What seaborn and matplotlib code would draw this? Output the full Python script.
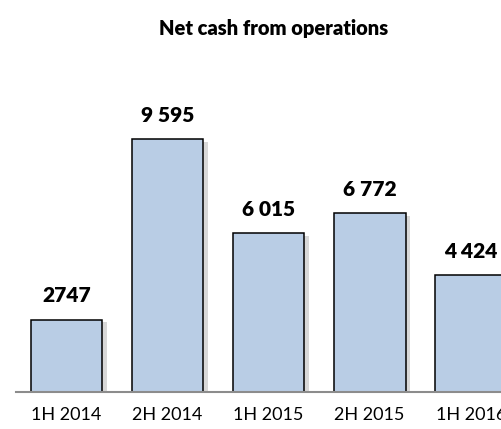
import matplotlib
matplotlib.use("Agg")
import matplotlib.pyplot as plt
import matplotlib.patheffects as pe
import seaborn as sns
import pandas as pd

categories = ["1H 2014", "2H 2014", "1H 2015", "2H 2015", "1H 2016"]
values = [2747, 9595, 6015, 6772, 4424]
value_labels = ["2747", "9 595", "6 015", "6 772", "4 424"]

sns.set_theme(style="white")
plt.rcParams['font.family'] = ['Lato', 'DejaVu Sans']

df = pd.DataFrame({"period": categories, "cash": values})

fig = plt.figure(figsize=(5.01, 4.29), dpi=100)
ax = fig.add_axes([16/501, 37/429, 1 - 16/501, 332/429])

sns.barplot(data=df, x="period", y="cash", color="#B9CDE5", saturation=1,
            width=0.71, edgecolor="black", linewidth=1.1, ax=ax)

for p in ax.patches:
    p.set_path_effects([pe.SimplePatchShadow(offset=(3, -2), shadow_rgbFace="#909090", alpha=0.35), pe.Normal()])

for i, (v, lab) in enumerate(zip(values, value_labels)):
    ax.annotate(lab, (i, v), xytext=(0, 12.5), textcoords="offset points",
                ha="center", va="baseline", fontsize=15, fontweight="heavy", color="black")

ax.set_xlim(-0.5, 4.3)
ax.set_ylim(0, 12590)
ax.set_xlabel("")
ax.set_ylabel("")
ax.set_yticks([])
ax.tick_params(axis="x", length=0, pad=11, labelsize=13, colors="black")
for s in ["top", "right", "left"]:
    ax.spines[s].set_visible(False)
ax.spines["bottom"].set_color("#8c8c8c")
ax.spines["bottom"].set_linewidth(1.5)

fig.suptitle("Net cash from operations", x=274/501, y=1 - 28/429, va="center",
             fontsize=14.5, fontweight="heavy", color="black")

fig.savefig("out.png", dpi=100)
